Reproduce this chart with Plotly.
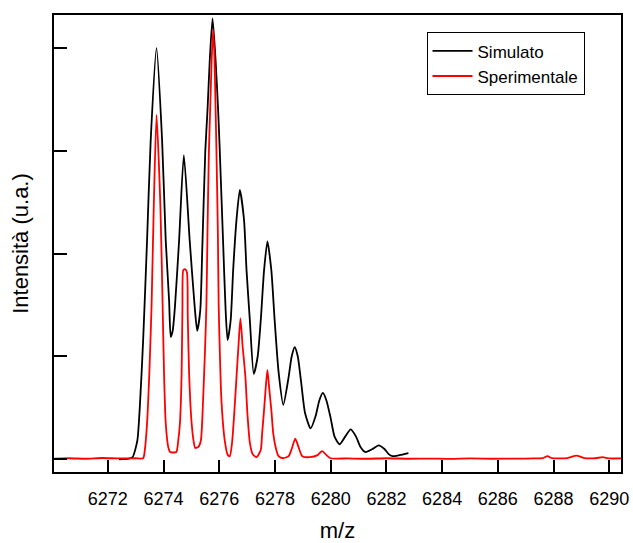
import plotly.graph_objects as go

# ---- data ----
sim_mz = [6272.40, 6272.75, 6272.89, 6273.06, 6273.15, 6273.27, 6273.41, 6273.54, 6273.75,
          6273.95, 6274.08, 6274.20, 6274.26, 6274.33, 6274.41, 6274.56, 6274.73, 6274.94,
          6275.12, 6275.21, 6275.32, 6275.39, 6275.50, 6275.58, 6275.66, 6275.76, 6275.87,
          6275.96, 6276.02, 6276.15, 6276.23, 6276.30, 6276.41, 6276.50, 6276.62, 6276.74,
          6276.89, 6276.98, 6277.10, 6277.24, 6277.38, 6277.49, 6277.61, 6277.73, 6277.87,
          6277.99, 6278.13, 6278.30, 6278.49, 6278.60, 6278.71, 6278.82, 6278.94, 6279.08,
          6279.28, 6279.46, 6279.59, 6279.72, 6279.85, 6280.00, 6280.14, 6280.32, 6280.52,
          6280.72, 6280.91, 6281.07, 6281.25, 6281.50, 6281.72, 6281.93, 6282.08, 6282.22,
          6282.47, 6282.79]
sim_int = [0.00, 0.005, 0.02, 0.18, 0.51, 1.16, 2.13, 3.10, 4.00,
           3.10, 2.13, 1.55, 1.19, 1.25, 1.48, 2.13, 2.96, 2.13,
           1.48, 1.25, 1.45, 2.03, 3.00, 3.40, 3.88, 4.29, 3.88,
           3.40, 3.00, 2.03, 1.45, 1.16, 1.35, 1.84, 2.33, 2.62,
           2.33, 1.84, 1.35, 0.83, 1.00, 1.35, 1.84, 2.12, 1.84,
           1.35, 0.85, 0.53, 0.80, 1.00, 1.09, 1.00, 0.75, 0.45,
           0.30, 0.42, 0.57, 0.645, 0.57, 0.40, 0.22, 0.146, 0.22,
           0.29, 0.22, 0.12, 0.07, 0.10, 0.136, 0.10, 0.05, 0.03,
           0.04, 0.06]

exp_mz = [6270.07, 6270.60, 6271.20, 6271.80, 6272.40, 6273.00, 6273.27, 6273.33, 6273.41,
          6273.49, 6273.57, 6273.65, 6273.75, 6273.89, 6273.97, 6274.02, 6274.08, 6274.17,
          6274.24, 6274.46, 6274.52, 6274.59, 6274.65, 6274.68, 6274.71, 6274.77, 6274.84,
          6274.87, 6274.92, 6275.01, 6275.09, 6275.14, 6275.25, 6275.34, 6275.42, 6275.49,
          6275.54, 6275.58, 6275.63, 6275.68, 6275.73, 6275.78, 6275.83, 6275.87, 6275.90,
          6275.95, 6275.98, 6276.02, 6276.08, 6276.20, 6276.31, 6276.38, 6276.46, 6276.54,
          6276.62, 6276.69, 6276.76, 6276.84, 6276.94, 6277.01, 6277.10, 6277.20, 6277.34,
          6277.49, 6277.54, 6277.61, 6277.67, 6277.73, 6277.79, 6277.87, 6277.94, 6278.05,
          6278.13, 6278.29, 6278.49, 6278.60, 6278.73, 6278.87, 6278.98, 6279.25, 6279.53,
          6279.69, 6279.85, 6280.00, 6280.60, 6281.30, 6282.00, 6282.80, 6283.50, 6284.30,
          6285.00, 6285.80, 6286.60, 6287.30, 6287.60, 6287.78, 6287.95, 6288.50, 6288.82,
          6289.10, 6289.50, 6289.75, 6290.00, 6290.42]
exp_int = [0.005, 0.010, 0.005, 0.012, 0.008, 0.010, 0.010, 0.09, 0.35,
           0.83, 1.48, 2.45, 3.35, 2.45, 1.48, 0.83, 0.35, 0.12,
           0.07, 0.07, 0.16, 0.35, 0.83, 1.48, 1.84, 1.85, 1.82,
           1.40, 0.83, 0.35, 0.16, 0.11, 0.12, 0.18, 0.57, 1.06,
           1.50, 2.23, 3.00, 3.45, 3.90, 4.18, 3.90, 3.40, 3.00,
           2.23, 1.50, 1.06, 0.57, 0.18, 0.04, 0.03, 0.16, 0.45,
           0.80, 1.10, 1.37, 1.10, 0.80, 0.45, 0.16, 0.05, 0.02,
           0.09, 0.25, 0.48, 0.70, 0.87, 0.70, 0.48, 0.25, 0.09,
           0.03, 0.01, 0.03, 0.10, 0.20, 0.10, 0.03, 0.02, 0.04,
           0.08, 0.04, 0.01, 0.008, 0.005, 0.010, 0.005, 0.007, 0.004,
           0.008, 0.005, 0.006, 0.008, 0.010, 0.030, 0.010, 0.012, 0.035,
           0.012, 0.010, 0.020, 0.008, 0.008]

x_ticks = [6272, 6274, 6276, 6278, 6280, 6282, 6284, 6286, 6288, 6290]
y_ticks = [0, 1, 2, 3, 4]

FONT = "Arial, 'Liberation Sans', sans-serif"

fig = go.Figure()
fig.add_trace(go.Scatter(x=sim_mz, y=sim_int, mode="lines", name="Simulato",
                         line=dict(color="#000000", width=1.8, shape="spline", smoothing=0.6)))
fig.add_trace(go.Scatter(x=exp_mz, y=exp_int, mode="lines", name="Sperimentale",
                         line=dict(color="#ff0000", width=1.8, shape="spline", smoothing=0.6)))

fig.update_layout(
    width=633, height=543,
    margin=dict(l=54, r=11.5, t=15, b=71.3, autoexpand=False),
    paper_bgcolor="white", plot_bgcolor="white",
    font=dict(family=FONT, color="#000000"),
    showlegend=True,
    legend=dict(x=0.657, y=0.962, xanchor="left", yanchor="top",
                bgcolor="white", bordercolor="#000000", borderwidth=1,
                font=dict(size=17, family=FONT, color="#000000"),
                itemwidth=40, tracegroupgap=0),
)
fig.update_xaxes(range=[6270.07, 6290.42], tickmode="array", tickvals=x_ticks,
                 ticktext=[str(v) for v in x_ticks], automargin=False,
                 ticks="inside", ticklen=12, tickwidth=1.5, tickcolor="#000000",
                 showline=True, linecolor="#000000", linewidth=1.5, mirror=True,
                 showgrid=False, zeroline=False,
                 tickfont=dict(size=18, family=FONT, color="#000000"),
                 ticklabelstandoff=10,
                 title=dict(text="m/z", font=dict(size=22, family=FONT, color="#000000"),
                            standoff=23))
fig.update_yaxes(range=[-0.124, 4.323], tickmode="array", tickvals=y_ticks,
                 showticklabels=False, automargin=False,
                 ticks="inside", ticklen=13, tickwidth=1.5, tickcolor="#000000",
                 showline=True, linecolor="#000000", linewidth=1.5, mirror=True,
                 showgrid=False, zeroline=False,
                 title=dict(text="Intensità (u.a.)", font=dict(size=22, family=FONT, color="#000000"),
                            standoff=18))

fig.write_html("out.html")
